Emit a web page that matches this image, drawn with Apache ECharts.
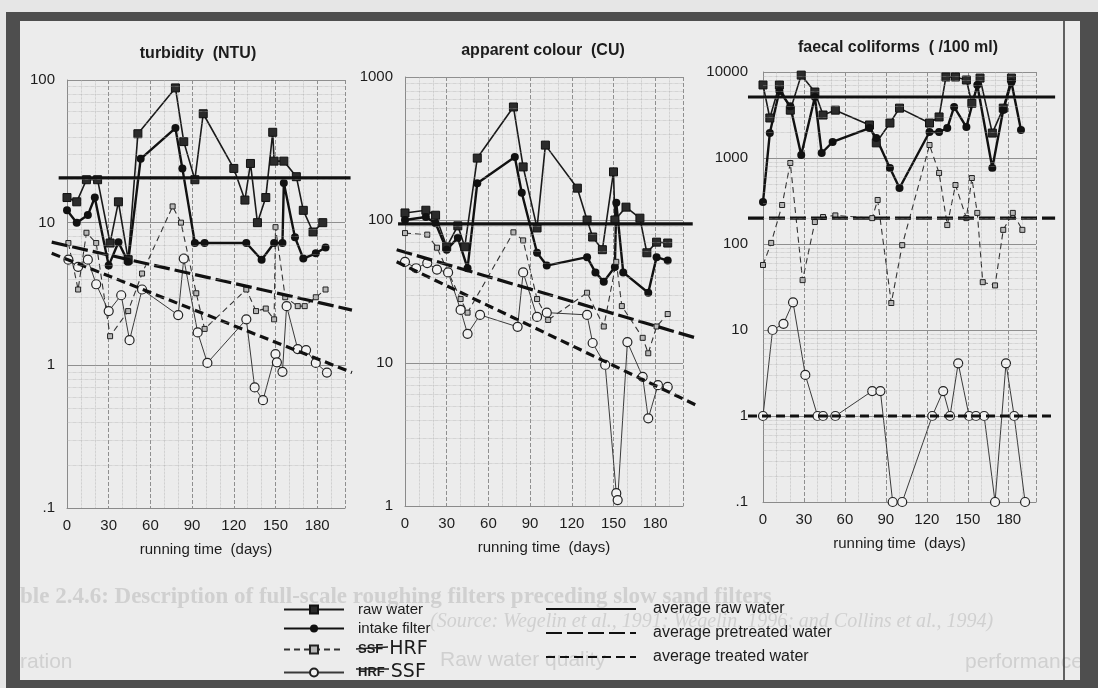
<!DOCTYPE html>
<html>
<head>
<meta charset="utf-8">
<title>roughing filter performance</title>
<script src="https://cdn.jsdelivr.net/npm/echarts@6/dist/echarts.min.js"></script>
<style>
html, body { margin: 0; padding: 0; background: #e6e6e6; }
#main { width: 1098px; height: 688px; }
</style>
</head>
<body>
<div id="main"></div>
<script>
// tick labels
var xTicks = [0, 30, 60, 90, 120, 150, 180];
var turbTicks = [0.1, 1, 10, 100];
var colTicks = [1, 10, 100, 1000];
var fcTicks = [0.1, 1, 10, 100, 1000, 10000];

// turbidity (NTU)  [day, value]
var turbRaw = [[0,15],[7,14],[14,20],[22,20],[31,7.2],[37,14],[44,5.5],[51,42],[78,88],[84,37],[92,20],[98,58],[120,24],[128,14.4],[132,26],[137,10],[143,15],[148,43],[149,27],[156,27],[165,21],[170,12.2],[177,8.6],[184,10]];
var turbIntake = [[0,12.2],[7,10],[15,11.3],[20,15],[30,5],[37,7.3],[44,5.3],[53,28],[78,46],[83,24],[92,7.2],[99,7.2],[129,7.2],[140,5.5],[149,7.2],[155,7.2],[156,19],[164,7.9],[170,5.6],[179,6.1],[186,6.7]];
var turbHrf = [[1,7.2],[8,3.4],[14,8.5],[21,7.2],[31,1.6],[44,2.4],[54,4.4],[76,13],[82,10],[93,3.2],[99,1.8],[129,3.4],[136,2.4],[143,2.5],[149,2.1],[150,9.3],[157,3.0],[166,2.6],[171,2.6],[179,3.0],[186,3.4]];
var turbSsf = [[1,5.5],[8,4.9],[15,5.5],[21,3.7],[30,2.4],[39,3.1],[45,1.5],[54,3.4],[80,2.25],[84,5.6],[94,1.7],[101,1.04],[129,2.1],[135,0.7],[141,0.57],[150,1.2],[151,1.05],[155,0.9],[158,2.6],[166,1.3],[172,1.28],[179,1.04],[187,0.89]];
var turbAvgRaw = [[-6,20.6],[204,20.6]];
var turbAvgPre = [[-11,7.3],[205,2.44]];
var turbAvgTreated = [[-11,6.1],[205,0.89]];

// apparent colour (CU)
var colRaw = [[0,112],[15,117],[22,108],[30,65],[38,91],[43,65],[52,271],[78,617],[85,235],[95,88],[101,334],[124,167],[131,100],[135,76],[142,62],[150,217],[151,100],[159,123],[169,103],[174,59],[181,70],[189,69]];
var colIntake = [[0,100],[15,105],[22,95],[30,62],[38,75],[45,46],[52,181],[79,276],[84,155],[95,59],[102,48],[131,55],[137,43],[143,37],[151,47],[152,132],[157,43],[175,31],[181,55],[189,52]];
var colHrf = [[0,81],[16,79],[23,64],[40,28],[45,22.5],[78,82],[85,72],[95,28],[103,20],[131,31],[143,18],[152,51],[156,25],[171,15],[175,11.7],[181,18],[189,22]];
var colSsf = [[0,51],[8,46],[16,50],[23,45],[31,43],[40,23.5],[45,16],[54,21.7],[81,17.9],[85,43],[95,21],[102,22.5],[131,21.7],[135,13.8],[144,9.7],[152,1.23],[153,1.1],[160,14],[171,8],[175,4.1],[182,7],[189,6.8]];
var colAvgRaw = [[-5,94],[207,94]];
var colAvgPre = [[-6,62],[209,15]];
var colAvgTreated = [[-6,51],[209,5.1]];

// faecal coliforms (/100 ml)
var fcRaw = [[0,7070],[5,2920],[12,7070],[20,3600],[28,9200],[38,5850],[44,3160],[53,3600],[78,2420],[83,1500],[93,2550],[100,3800],[122,2550],[129,3000],[134,8750],[141,8750],[149,8070],[153,4330],[159,8500],[168,1950],[176,3800],[182,8500]];
var fcIntake = [[0,307],[5,1950],[12,6000],[20,4000],[28,1084],[38,5120],[43,1143],[51,1535],[78,2232],[83,1710],[93,766],[100,448],[122,2005],[129,2005],[135,2232],[140,3920],[149,2290],[157,7070],[168,766],[176,3614],[182,7600],[189,2120]];
var fcHrf = [[0,57],[6,103],[14,284],[20,875],[29,38],[38,180],[44,206],[53,215],[80,200],[84,325],[94,20.6],[102,97],[122,1416],[129,670],[135,166],[141,485],[149,200],[153,585],[157,230],[161,36],[170,33],[176,146],[183,230],[190,146]];
var fcSsf = [[0,1],[7,10],[15,11.8],[22,21],[31,3],[40,1],[44,1],[53,1],[80,1.95],[86,1.95],[95,0.1],[102,0.1],[124,1],[132,1.95],[137,1],[143,4.1],[151,1],[156,1],[162,1],[170,0.1],[178,4.1],[184,1],[192,0.1]];
var fcAvgRaw = [[-11,5120],[214,5120]];
var fcAvgPre = [[-11,200],[214,200]];
var fcAvgTreated = [[-11,1],[214,1]];

var panels = [
	{ title: 'turbidity  (NTU)', ticks: turbTicks, raw: turbRaw, intake: turbIntake, hrf: turbHrf, ssf: turbSsf, avg: [turbAvgRaw, turbAvgPre, turbAvgTreated] },
	{ title: 'apparent colour  (CU)', ticks: colTicks, raw: colRaw, intake: colIntake, hrf: colHrf, ssf: colSsf, avg: [colAvgRaw, colAvgPre, colAvgTreated] },
	{ title: 'faecal coliforms  ( /100 ml)', ticks: fcTicks, raw: fcRaw, intake: fcIntake, hrf: fcHrf, ssf: fcSsf, avg: [fcAvgRaw, fcAvgPre, fcAvgTreated] }
];

var FONT = 'Liberation Sans, Arial, sans-serif';
var INK = '#1c1c1c';

var boxes = [
	{ left: 67, top: 80, width: 278, height: 428 },
	{ left: 405, top: 77, width: 278, height: 429 },
	{ left: 763, top: 72, width: 273, height: 430 }
];
var titlePos = [[198, 54], [543, 51], [898, 48]];
var DAYS = 200, PAD = 20;   // overlay grid for the average lines runs past the plot edges

// styles for each series kind
var kinds = {
	raw: { name: 'raw water', symbol: 'rect', symbolSize: 8,
		lineStyle: { color: '#1a1a1a', width: 1.6 },
		itemStyle: { color: '#2b2b2b', borderColor: '#111', borderWidth: 1 } },
	intake: { name: 'intake filter', symbol: 'circle', symbolSize: 8,
		lineStyle: { color: '#111', width: 2.4 },
		itemStyle: { color: '#111' } },
	hrf: { name: 'HRF', symbol: 'rect', symbolSize: 5,
		lineStyle: { color: '#333', width: 1.1, type: [6, 4] },
		itemStyle: { color: '#b8b8b8', borderColor: '#222', borderWidth: 1 } },
	ssf: { name: 'SSF', symbol: 'circle', symbolSize: 9,
		lineStyle: { color: '#3a3a3a', width: 1 },
		itemStyle: { color: '#f2f2f2', borderColor: '#222', borderWidth: 1.2 } }
};
var avgNames = ['average raw water', 'average pretreated water', 'average treated water'];
var avgTypes = ['solid', [16, 5], [9, 5]];

function minorValues(ticks) {
	var out = [];
	for (var i = 0; i < ticks.length - 1; i++) {
		for (var k = 2; k <= 9; k++) out.push(ticks[i] * k);
	}
	return out;
}

var grids = [], xAxes = [], yAxes = [], series = [], graphics = [];

// page + frame
graphics.push({ type: 'rect', z: -10, shape: { x: 20, y: 21, width: 1060, height: 659 }, style: { fill: '#ececec' } });
graphics.push({ type: 'rect', z: 10, shape: { x: 6, y: 12, width: 14, height: 676 }, style: { fill: '#4e4e4e' } });
graphics.push({ type: 'rect', z: 10, shape: { x: 6, y: 12, width: 1092, height: 9 }, style: { fill: '#4e4e4e' } });
graphics.push({ type: 'rect', z: 10, shape: { x: 6, y: 680, width: 1092, height: 8 }, style: { fill: '#4e4e4e' } });
graphics.push({ type: 'rect', z: 10, shape: { x: 1080, y: 12, width: 18, height: 676 }, style: { fill: '#4e4e4e' } });
graphics.push({ type: 'line', z: 10, shape: { x1: 1064, y1: 21, x2: 1064, y2: 680 }, style: { stroke: '#333', lineWidth: 1.5 } });

// faint text showing through from the scanned page
var ghostFill = '#d0d0d0';
graphics.push({ type: 'text', z: -5, style: { text: 'ble 2.4.6: Description of full-scale roughing filters preceding slow sand filters', x: 20, y: 586, fill: ghostFill, font: 'bold 23px Liberation Serif, serif' } });
graphics.push({ type: 'text', z: -5, style: { text: '(Source: Wegelin et al., 1991; Wegelin, 1996; and Collins et al., 1994)', x: 430, y: 612, fill: ghostFill, font: 'italic 20px Liberation Serif, serif' } });
graphics.push({ type: 'text', z: -5, style: { text: 'ration', x: 20, y: 652, fill: ghostFill, font: '21px Liberation Sans, sans-serif' } });
graphics.push({ type: 'text', z: -5, style: { text: 'Raw water quality', x: 440, y: 650, fill: ghostFill, font: '21px Liberation Sans, sans-serif' } });
graphics.push({ type: 'text', z: -5, style: { text: 'performance', x: 965, y: 652, fill: ghostFill, font: '21px Liberation Sans, sans-serif' } });

// main grids 0..2
panels.forEach(function(p, i) {
	var b = boxes[i];
	grids.push({ left: b.left, top: b.top, width: b.width, height: b.height });

	graphics.push({ type: 'text', z: 5, style: {
		text: p.title, x: titlePos[i][0], y: titlePos[i][1],
		textAlign: 'center', textVerticalAlign: 'middle', align: 'center', verticalAlign: 'middle',
		fill: INK, font: 'bold 16px ' + FONT } });

	xAxes.push({
		type: 'value', gridIndex: i, min: 0, max: DAYS, interval: 30,
		name: 'running time  (days)', nameLocation: 'middle', nameGap: 34,
		nameTextStyle: { color: INK, fontSize: 15, fontFamily: FONT },
		axisLine: { lineStyle: { color: '#8a8a8a', width: 1 } },
		axisTick: { show: false },
		axisLabel: { color: INK, fontSize: 15, fontFamily: FONT, margin: 10,
			formatter: function(v) { return xTicks.indexOf(v) >= 0 ? String(v) : ''; } },
		splitLine: { show: true, lineStyle: { color: '#8f8f8f', width: 1, type: [4, 2] } },
		minorTick: { show: false, splitNumber: 3 },
		minorSplitLine: { show: true, lineStyle: { color: '#b4b4b4', width: 0.7, type: 'dotted' } }
	});
	yAxes.push({
		type: 'log', logBase: 10, gridIndex: i,
		min: p.ticks[0], max: p.ticks[p.ticks.length - 1],
		axisLine: { show: true, lineStyle: { color: '#8a8a8a', width: 1 } },
		axisTick: { show: false },
		axisLabel: { color: INK, fontSize: 15, fontFamily: FONT, margin: i == 2 ? 15 : 12,
			formatter: function(v) { return v < 0.5 ? '.1' : String(Math.round(v)); } },
		splitLine: { show: true, lineStyle: { color: '#8f8f8f', width: 1 } }
	});

	// minor log grid lines (2..9 of each decade)
	series.push({
		type: 'line', name: 'minor', xAxisIndex: i, yAxisIndex: i, data: [],
		silent: true, symbol: 'none',
		markLine: { silent: true, symbol: ['none', 'none'], label: { show: false },
			lineStyle: { color: '#a9a9a9', width: 0.6, type: 'dotted' },
			animation: false,
			data: minorValues(p.ticks).map(function(v) { return { yAxis: v }; }) }
	});

	['raw', 'intake', 'hrf', 'ssf'].forEach(function(k) {
		var s = kinds[k];
		series.push({
			type: 'line', name: s.name, xAxisIndex: i, yAxisIndex: i,
			data: p[k], symbol: s.symbol, symbolSize: s.symbolSize,
			showSymbol: true, showAllSymbol: true,
			lineStyle: s.lineStyle, itemStyle: s.itemStyle, z: 3
		});
	});
});

// overlay grids 3..5: same day scale, wider, hidden axes, for the average lines
panels.forEach(function(p, i) {
	var b = boxes[i];
	var perDay = b.width / DAYS;
	var g = 3 + i;
	grids.push({ left: b.left - PAD * perDay, top: b.top, width: (DAYS + 2 * PAD) * perDay, height: b.height });
	xAxes.push({ type: 'value', gridIndex: g, min: -PAD, max: DAYS + PAD, show: false, splitLine: { show: false } });
	yAxes.push({ type: 'log', logBase: 10, gridIndex: g, min: p.ticks[0], max: p.ticks[p.ticks.length - 1], show: false, splitLine: { show: false } });
	p.avg.forEach(function(d, j) {
		series.push({
			type: 'line', name: avgNames[j], xAxisIndex: g, yAxisIndex: g,
			data: d, symbol: 'none', z: 4,
			itemStyle: { color: 'rgba(0,0,0,0)' },
			lineStyle: { color: '#111', width: 3.2, type: avgTypes[j] }
		});
	});
});

// struck-out words in the legend
graphics.push({ type: 'line', z: 12, shape: { x1: 356, y1: 649, x2: 388, y2: 647 }, style: { stroke: '#222', lineWidth: 1.5 } });
graphics.push({ type: 'line', z: 12, shape: { x1: 356, y1: 669, x2: 389, y2: 669 }, style: { stroke: '#222', lineWidth: 1.5 } });

var legendRich = {
	s: { fontSize: 13, fontWeight: 'bold', color: INK, fontFamily: FONT, lineHeight: 15 },
	h: { fontSize: 19, color: INK, fontFamily: 'DejaVu Sans, sans-serif', lineHeight: 15 }
};

var option = {
	backgroundColor: '#e6e6e6',
	animation: false,
	grid: grids,
	xAxis: xAxes,
	yAxis: yAxes,
	graphic: graphics,
	legend: [{
		data: ['raw water', 'intake filter', 'HRF', 'SSF'],
		orient: 'vertical', left: 283, top: 602, height: 120, padding: 0,
		itemWidth: 60, itemHeight: 10, itemGap: 4,
		selectedMode: false,
		textStyle: { color: INK, fontSize: 15, fontFamily: FONT, padding: [0, 0, 0, 9], rich: legendRich },
		formatter: function(name) {
			if (name === 'HRF') return '{s|SSF}{h| HRF}';
			if (name === 'SSF') return '{s|HRF}{h| SSF}';
			return name;
		}
	}, {
		data: avgNames,
		orient: 'vertical', left: 545, top: 601, height: 120, padding: 0,
		itemWidth: 90, itemHeight: 10, itemGap: 8,
		selectedMode: false,
		textStyle: { color: INK, fontSize: 16, fontFamily: FONT, padding: [0, 0, 0, 12] }
	}],
	series: series
};

var myChart = echarts.init(document.getElementById('main'));
myChart.setOption(option);
</script>
</body>
</html>
